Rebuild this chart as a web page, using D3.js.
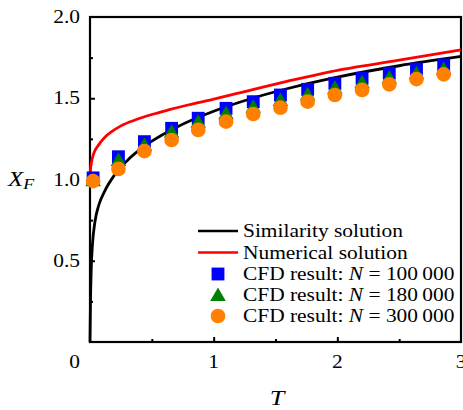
<!DOCTYPE html>
<html><head><meta charset="utf-8">
<script src="https://cdn.jsdelivr.net/npm/d3@7/dist/d3.min.js"></script>
<style>body{margin:0;background:#fff}svg{display:block}</style>
</head><body>
<svg id="c" width="463" height="410"></svg>
<script>
// ---- data ----
const simT = [0, 0.004, 0.01, 0.02, 0.04, 0.07, 0.12, 0.2, 0.3, 0.4, 0.5, 0.7, 1.0, 1.3, 1.6, 2.0, 2.5, 3.0];
const simX = [0, 0.25, 0.45, 0.6, 0.74, 0.84, 0.93, 1.03, 1.116, 1.182, 1.236, 1.322, 1.42, 1.497, 1.56, 1.63, 1.70, 1.757];
const numT = [0, 0.003, 0.013, 0.03, 0.067, 0.12, 0.175, 0.25, 0.364, 0.5, 0.633, 0.8, 0.97, 1.3, 1.6, 1.94, 2.5, 3.0];
const numX = [1.0, 1.05, 1.11, 1.16, 1.21, 1.26, 1.294, 1.33, 1.366, 1.40, 1.428, 1.46, 1.489, 1.55, 1.605, 1.663, 1.734, 1.797];
const cfdT = [0.025, 0.23, 0.44, 0.66, 0.875, 1.1, 1.32, 1.54, 1.76, 1.98, 2.2, 2.42, 2.64, 2.86];
const cfd100k = [1.01, 1.14, 1.233, 1.315, 1.377, 1.438, 1.479, 1.52, 1.555, 1.592, 1.623, 1.654, 1.68, 1.705];
const cfd180k = [0.995, 1.12, 1.212, 1.294, 1.356, 1.407, 1.448, 1.489, 1.524, 1.565, 1.598, 1.627, 1.654, 1.68];
const cfd300k = [0.99, 1.065, 1.175, 1.243, 1.305, 1.356, 1.403, 1.442, 1.479, 1.52, 1.551, 1.586, 1.618, 1.647];
const xTickLabels = ["1", "2", "3"];
const xTickValues = [1, 2, 3];
const yTickLabels = ["0.5", "1.0", "1.5", "2.0"];
const yTickValues = [0.5, 1.0, 1.5, 2.0];
const legendLabels = ["Similarity solution", "Numerical solution", "CFD result: ", "CFD result: ", "CFD result: "];
const legendN = ["", "", "100\u2009000", "180\u2009000", "300\u2009000"];

// ---- layout ----
const L = 90, R = 461, T = 17, B = 342;
const FONT = "'Liberation Serif','Times New Roman',serif";
const FS = 18, SX = 1.19;
const svg = d3.select("#c");
const x = d3.scaleLinear().domain([0, 3]).range([L, R]);
const y = d3.scaleLinear().domain([0, 2]).range([B, T]);

function label(sel, px, py, txt, anchor, italic, fs) {
  const t = sel.append("text")
    .attr("transform", `translate(${px},${py}) scale(${SX},1)`)
    .attr("text-anchor", anchor || "middle")
    .attr("font-family", FONT).attr("font-size", fs || FS).attr("fill", "#000");
  if (italic) t.attr("font-style", "italic");
  t.text(txt);
  return t;
}

// ticks (inward)
const ax = svg.append("g").attr("transform", `translate(0,${B})`)
  .call(d3.axisBottom(x).tickValues([0.5, 1, 1.5, 2, 2.5]).tickSize(-5).tickFormat(""));
ax.selectAll(".tick line").attr("stroke-width", 2)
  .attr("y2", d => Number.isInteger(d) ? -5 : -3);
ax.select(".domain").remove();
const ay = svg.append("g").attr("transform", `translate(${L},0)`)
  .call(d3.axisLeft(y).tickValues([0.25, 0.5, 0.75, 1, 1.25, 1.5, 1.75]).tickSize(-5).tickFormat(""));
ay.selectAll(".tick line").attr("stroke-width", 2)
  .attr("x2", d => (Math.round(d * 2) === d * 2) ? 5 : 3);
ay.select(".domain").remove();

// frame
svg.append("rect").attr("x", L).attr("y", T).attr("width", R - L).attr("height", B - T)
  .attr("fill", "none").attr("stroke", "#000").attr("stroke-width", 2.2);

// tick labels
xTickValues.forEach((v, i) => label(svg, x(v), 368, xTickLabels[i], "middle"));
yTickValues.forEach((v, i) => label(svg, 80, y(v) + 6, yTickLabels[i], "end"));
label(svg, 80, 368, "0", "end");

// axis titles
label(svg, 277, 405, "T", "middle", true, 22);
const xf = label(svg, 8, 186, "", "start", true, 21);
xf.append("tspan").text("X");
xf.append("tspan").attr("font-size", 15).attr("dy", 3).text("F");

// curves
const plot = svg.append("g");
const line = d3.line().x(d => x(d[0])).y(d => y(d[1])).curve(d3.curveMonotoneX);
plot.append("path").attr("d", line(simT.map((t, i) => [t, simX[i]])))
  .attr("fill", "none").attr("stroke", "#000").attr("stroke-width", 2.8);
plot.append("path").attr("d", line(numT.map((t, i) => [t, numX[i]])))
  .attr("fill", "none").attr("stroke", "#ff0000").attr("stroke-width", 2.8);

// markers
const sq = d3.symbol().type(d3.symbolSquare).size(165);
const tri = d3.symbol().type(d3.symbolTriangle).size(105);
const cir = d3.symbol().type(d3.symbolCircle).size(170);
const series = [
  {vals: cfd100k, sym: sq, color: "#0000ff", dy: 0},
  {vals: cfd180k, sym: tri, color: "#008000", dy: 1.5},
  {vals: cfd300k, sym: cir, color: "#ff8000", dy: 0}
];
series.forEach(s => {
  plot.selectAll(null).data(cfdT).enter().append("path")
    .attr("d", s.sym())
    .attr("transform", (t, i) => `translate(${x(t)},${y(s.vals[i]) + s.dy})`)
    .attr("fill", s.color);
});

// legend
const lg = svg.append("g");
const rowY = [231, 252.5, 274, 295, 316];
lg.append("line").attr("x1", 198).attr("x2", 238).attr("y1", rowY[0]).attr("y2", rowY[0])
  .attr("stroke", "#000").attr("stroke-width", 2.5);
lg.append("line").attr("x1", 198).attr("x2", 238).attr("y1", rowY[1]).attr("y2", rowY[1])
  .attr("stroke", "#ff0000").attr("stroke-width", 2.5);
series.forEach((s, i) => {
  lg.append("path").attr("d", s.sym()).attr("fill", s.color)
    .attr("transform", `translate(218,${rowY[i + 2] + s.dy})`);
});
legendLabels.forEach((txt, i) => {
  const t = label(lg, 243, rowY[i] + 6, "", "start");
  t.append("tspan").text(txt);
  if (legendN[i]) {
    t.append("tspan").attr("font-style", "italic").text("N");
    t.append("tspan").text(" = " + legendN[i]);
  }
});
</script>
</body></html>
